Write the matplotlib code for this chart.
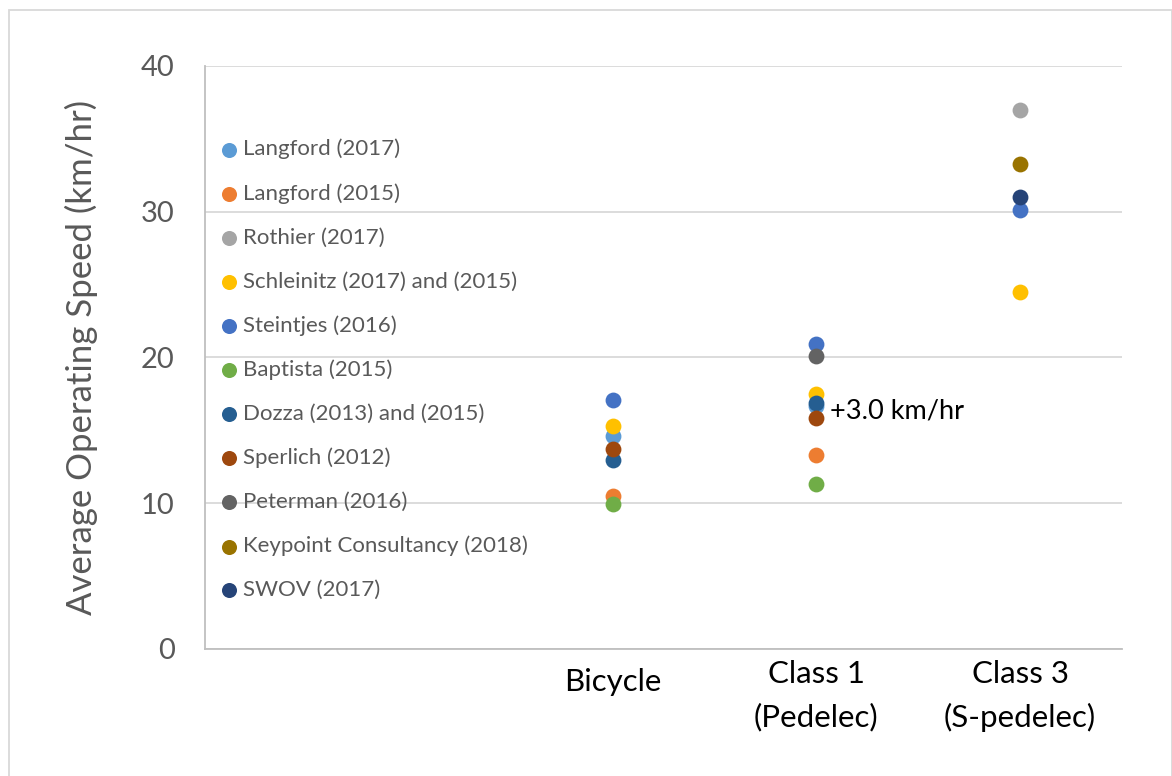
import matplotlib.pyplot as plt
from matplotlib.patches import Rectangle
from matplotlib.transforms import ScaledTranslation

plt.rcParams['font.family'] = ['Lato', 'DejaVu Sans']

# x positions of the three vehicle groups (Excel scatter, axis 0..4.5)
categories = ["Bicycle", "Class 1\n(Pedelec)", "Class 3\n(S-pedelec)"]
cat_x = [2, 3, 4]

studies = ["Langford (2017)", "Langford (2015)", "Rothier (2017)",
           "Schleinitz (2017) and (2015)", "Steintjes (2016)", "Baptista (2015)",
           "Dozza (2013) and (2015)", "Sperlich (2012)", "Peterman (2016)",
           "Keypoint Consultancy (2018)", "SWOV (2017)"]
colors = ["#5B9BD5", "#ED7D31", "#A5A5A5", "#FFC000", "#4472C4", "#70AD47",
          "#255E91", "#9E480E", "#636363", "#997300", "#264478"]

# speeds per study: (bicycle, class 1, class 3); None = not reported
langford_2017 = [14.6, 16.7, None]
langford_2015 = [10.5, 13.3, None]
rothier_2017 = [None, None, 37.0]
schleinitz = [15.3, 17.5, 24.5]
steintjes_2016 = [17.05, 20.9, 30.1]
baptista_2015 = [9.95, 11.3, None]
dozza = [12.95, 16.9, None]
sperlich_2012 = [13.7, 15.85, None]
peterman_2016 = [None, 20.1, None]
keypoint_2018 = [None, None, 33.3]
swov_2017 = [None, None, 31.0]

series = [langford_2017, langford_2015, rothier_2017, schleinitz, steintjes_2016,
          baptista_2015, dozza, sperlich_2012, peterman_2016, keypoint_2018, swov_2017]

fig = plt.figure(figsize=(11.72, 7.76), dpi=100)
ax = fig.add_axes([0.175, 0.1637, 0.7823, 0.7513])

for name, col, vals in zip(studies, colors, series):
    xs = [x for x, v in zip(cat_x, vals) if v is not None]
    ys = [v for v in vals if v is not None]
    ax.scatter(xs, ys, s=130, color=col, label=name, zorder=3, linewidths=0)

ax.text(3.065, 16.35, "+3.0 km/hr", fontsize=19.5, color="black", va="center", ha="left")

ax.set_xlim(0, 4.5)
ax.set_ylim(0, 40)
ax.set_yticks([0, 10, 20, 30, 40])
ax.set_xticks(cat_x)
ax.set_xticklabels(categories, fontsize=22.5, color="black", va="top", linespacing=1.6)
ax.tick_params(axis='y', labelsize=21, labelcolor="#595959", length=0, pad=22)
ax.tick_params(axis='x', length=0, pad=8)
# single-line label sits a bit lower in the original
lab = ax.get_xticklabels()[0]
lab.set_transform(lab.get_transform() + ScaledTranslation(0, -8 / 100, fig.dpi_scale_trans))
ax.yaxis.grid(True, color="#D9D9D9", linewidth=1.3)
ax.set_axisbelow(True)
for s in ["top", "right"]:
    ax.spines[s].set_visible(False)
for s in ["left", "bottom"]:
    ax.spines[s].set_color("#BFBFBF")
    ax.spines[s].set_linewidth(1.3)
ax.set_ylabel("Average Operating Speed (km/hr)", fontsize=25, color="#595959", labelpad=31)

leg = ax.legend(loc="upper left", bbox_to_anchor=(0.0, 0.894), frameon=False,
                fontsize=16, handletextpad=0.05, labelspacing=1.07,
                markerscale=0.95, borderaxespad=0.1, handlelength=1.16)
for t in leg.get_texts():
    t.set_color("#595959")

# outer chart border
fig.patches.append(Rectangle((9 / 1172, -0.01), 1 - 9 / 1172 - 0.5 / 1172, 1 - 10 / 776 + 0.01,
                             transform=fig.transFigure, fill=False,
                             edgecolor="#D9D9D9", linewidth=1.3))

fig.savefig("out.png", dpi=100)
